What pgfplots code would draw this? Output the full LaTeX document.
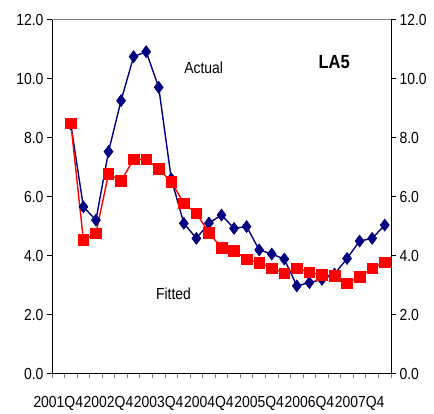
\documentclass[border=0pt]{standalone}
\usepackage{fontspec}
\setmainfont{Liberation Sans}[FakeStretch=0.87]
\usepackage{pgfplots}
\usepackage{pgfplotstable}
\pgfplotsset{compat=1.18}
\definecolor{navyblue}{RGB}{0,0,128}
\definecolor{fitred}{RGB}{255,0,0}
\pgfplotstableread{
k actual fitted
1 8.45 8.48
2 5.65 4.53
3 5.20 4.75
4 7.52 6.76
5 9.25 6.53
6 10.74 7.26
7 10.91 7.26
8 9.70 6.93
9 6.60 6.50
10 5.09 5.77
11 4.58 5.43
12 5.10 4.77
13 5.37 4.26
14 4.92 4.15
15 4.98 3.87
16 4.19 3.76
17 4.05 3.57
18 3.88 3.40
19 2.97 3.57
20 3.08 3.43
21 3.19 3.34
22 3.37 3.31
23 3.90 3.06
24 4.49 3.28
25 4.58 3.57
26 5.03 3.77
}\datatable
\begin{document}
\begin{tikzpicture}
\pgfplotsset{
  every tick label/.append style={font=\fontsize{16}{18}\selectfont},
}
\begin{axis}[
  name=main,
  scale only axis, width=339pt, height=354pt,
  xmin=-0.5, xmax=26.5, ymin=0, ymax=12,
  axis lines*=left,
  axis line style={black, line width=0.8pt},
  /pgf/number format/assume math mode=true,
  xtick={-0.5,0.5,1.5,2.5,3.5,4.5,5.5,6.5,7.5,8.5,9.5,10.5,11.5,12.5,13.5,14.5,15.5,16.5,17.5,18.5,19.5,20.5,21.5,22.5,23.5,24.5,25.5,26.5},
  xticklabel=\empty,
  xtick style={gray, line width=0.8pt},
  tick align=outside,
  major tick length=5pt,
  ytick={0,2,...,12},
  ytick style={black, line width=0.8pt},
  yticklabel style={/pgf/number format/.cd, fixed, fixed zerofill, precision=1},
  extra x ticks={0,4,8,12,16,20,24},
  extra x tick labels={2001Q4,2002Q4,2003Q4,2004Q4,2005Q4,2006Q4,2007Q4},
  extra x tick style={xtick style={draw=none}, xticklabel style={yshift=-14pt}},
  clip=false,
]
\coordinate (bl) at (rel axis cs:0,0);
\draw[gray, line width=0.8pt] (rel axis cs:0,1) -- (rel axis cs:1,1);
\addplot[color=navyblue, line width=1.4pt, mark=diamond*, mark size=6pt,
  mark options={solid, fill=navyblue, line width=0.6pt}] table[x=k, y=actual] {\datatable};
\addplot[color=fitred, line width=1.4pt, mark=square*, mark size=5.3pt,
  mark options={solid, fill=fitred, line width=0.6pt}] table[x=k, y=fitted] {\datatable};
\node[font=\fontsize{16}{18}\selectfont] at (axis cs:11.58,10.37) {Actual};
\node[font=\fontsize{19}{21}\selectfont\bfseries] at (axis cs:21.97,10.56) {LA5};
\node[font=\fontsize{16}{18}\selectfont] at (axis cs:9.18,2.69) {Fitted};
\end{axis}
\begin{axis}[
  scale only axis, width=339pt, height=354pt,
  xmin=-0.5, xmax=26.5, ymin=0, ymax=12,
  axis x line=none,
  axis y line*=right,
  axis line style={black, line width=0.8pt},
  /pgf/number format/assume math mode=true,
  tick align=outside,
  major tick length=5pt,
  ytick={0,2,...,12},
  ytick style={black, line width=0.8pt},
  yticklabel style={/pgf/number format/.cd, fixed, fixed zerofill, precision=1},
]
\end{axis}
\pgfresetboundingbox
\path (bl) ++(-52pt,-40.5pt) rectangle ++(434pt,414pt);
\end{tikzpicture}
\end{document}
